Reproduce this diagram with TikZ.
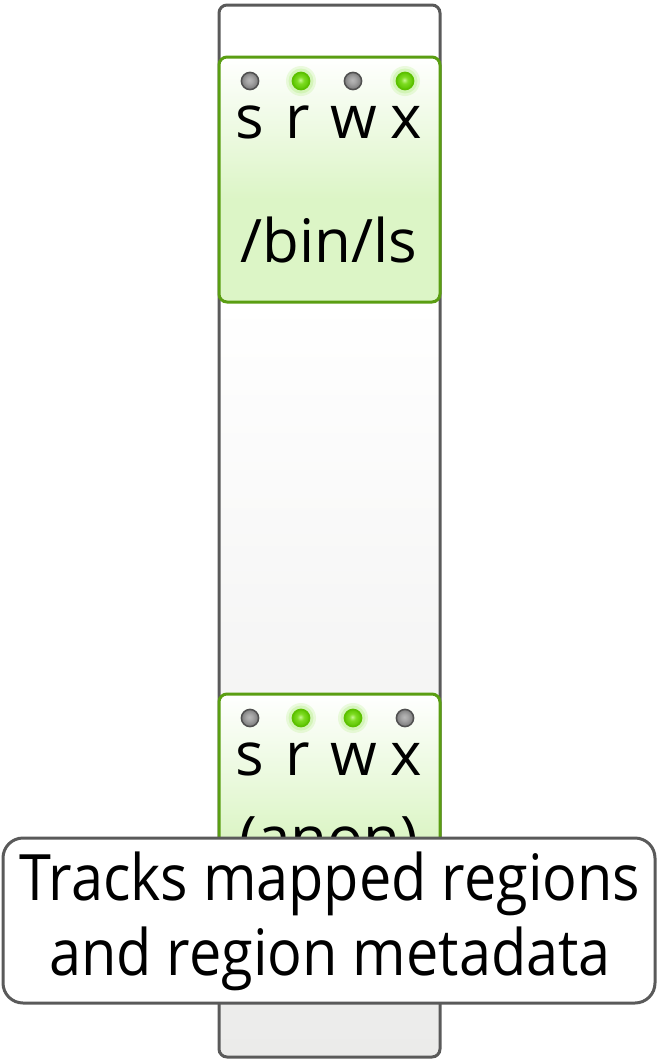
\documentclass[tikz,border=0pt]{standalone}
\usepackage{fontspec}
\setmainfont{Open Sans}
\newfontfamily\labelfont[FakeStretch=0.9]{Open Sans}
\definecolor{frame}{HTML}{5A5A5A}
\definecolor{leaf}{HTML}{5A9E12}
\definecolor{leaffill}{HTML}{DCF5C6}
\definecolor{colbot}{HTML}{EBEBEA}
\definecolor{onhi}{HTML}{C8F890}
\definecolor{onmid}{HTML}{7EDC22}
\definecolor{onlo}{HTML}{5CC400}
\definecolor{onrim}{HTML}{5CC000}
\definecolor{onglow}{HTML}{9BE85A}
\definecolor{offhi}{HTML}{B8B8B8}
\definecolor{offlo}{HTML}{7A7A7A}
\definecolor{offrim}{HTML}{505050}
% vertical shadings: 25bp = bottom of the path, 75bp = top
\pgfdeclareverticalshading{columnfill}{100bp}{color(0bp)=(colbot); color(25bp)=(colbot); color(61bp)=(white); color(100bp)=(white)}
\pgfdeclareverticalshading{regionfill}{100bp}{color(0bp)=(leaffill); color(46bp)=(leaffill); color(75bp)=(white); color(100bp)=(white)}
% LED shadings: 25bp = rim of the circle
\pgfdeclareradialshading{ledonfill}{\pgfpoint{-2bp}{3bp}}{color(0bp)=(onhi); color(10bp)=(onmid); color(25bp)=(onlo); color(50bp)=(onlo)}
\pgfdeclareradialshading{ledofffill}{\pgfpoint{-2bp}{3bp}}{color(0bp)=(offhi); color(10bp)=(offhi!70!offlo); color(25bp)=(offlo); color(50bp)=(offlo)}
\tikzset{
  column/.style={draw=frame, line width=3pt, rounded corners=8pt, shading=columnfill},
  region/.style={draw=leaf, line width=3pt, rounded corners=8pt, shading=regionfill},
  flag/.style={font=\fontsize{60}{60}\selectfont, anchor=base, inner sep=0pt},
  title/.style={font=\fontsize{60}{60}\selectfont, anchor=base, inner sep=0pt},
  callout/.style={draw=frame, line width=3pt, rounded corners=20pt, fill=white},
  calltext/.style={inner sep=0pt, anchor=base, font=\labelfont\fontsize{64}{64}\selectfont},
}
\newcommand{\ledoff}[1]{%
  \shade[shading=ledofffill, draw=offrim, line width=1.5pt] (#1) circle (8.6);}
\newcommand{\ledon}[1]{%
  \fill[onglow, opacity=0.18] (#1) circle (15);
  \fill[onglow, opacity=0.25] (#1) circle (12.5);
  \shade[shading=ledonfill, draw=onrim, line width=1.5pt] (#1) circle (8.6);}
\begin{document}
\begin{tikzpicture}[x=1pt,y=-1pt]
  \useasboundingbox (0,0) rectangle (657,1061);
  % address-space column
  \path[column] (219,5) rectangle (440,1057);
  % mapped region: /bin/ls
  \path[region] (219,57) rectangle (440,302);
  \coordinate (a1) at (250,81); \coordinate (a2) at (301,81);
  \coordinate (a3) at (353,81); \coordinate (a4) at (405,81);
  \ledoff{a1} \ledon{a2} \ledoff{a3} \ledon{a4}
  \node[flag] (as) at (250,138) {s};
  \node[flag] (ar) at (298,138) {r};
  \node[flag] (aw) at (354,138) {w};
  \node[flag] (ax) at (406,138) {x};
  \node[title] (abin) at (329,262) {/bin/ls};
  % mapped region: anonymous
  \path[region] (219,694) rectangle (440,939);
  \coordinate (b1) at (250,718); \coordinate (b2) at (301,718);
  \coordinate (b3) at (353,718); \coordinate (b4) at (405,718);
  \ledoff{b1} \ledon{b2} \ledon{b3} \ledoff{b4}
  \node[flag] (bs) at (250,775) {s};
  \node[flag] (br) at (298,775) {r};
  \node[flag] (bw) at (354,775) {w};
  \node[flag] (bx) at (406,775) {x};
  \node[title] (banon) at (329,859) {(anon)};
  % callout
  \path[callout] (3,838) rectangle (655,1003);
  \node[calltext] (l1) at (330,900) {Tracks mapped regions};
  \node[calltext] (l2) at (330,975) {and region metadata};
\end{tikzpicture}
\end{document}
